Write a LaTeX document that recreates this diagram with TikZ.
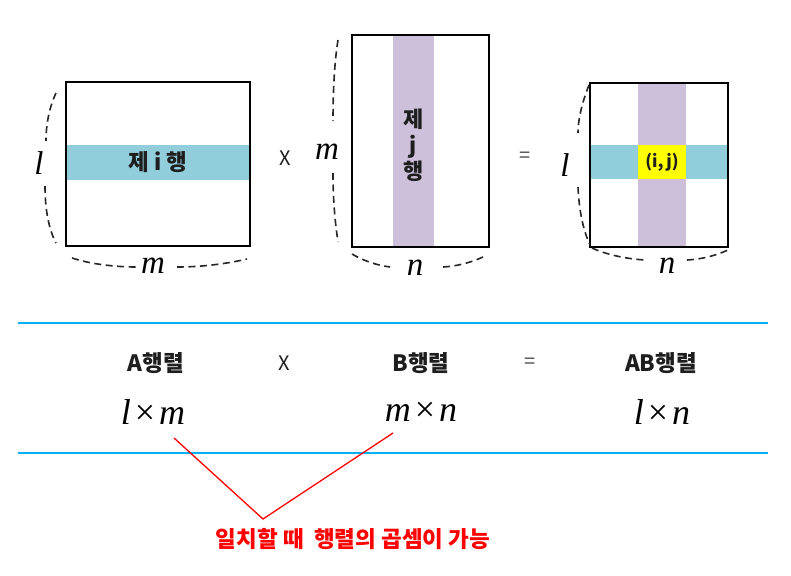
\documentclass[tikz,border=0pt]{standalone}
\usepackage{fontspec}
\setmainfont{Liberation Serif}
\newfontfamily\kr{Noto Sans CJK KR}
\definecolor{rowcyan}{HTML}{92CDDC}
\definecolor{colpurple}{HTML}{CCC0DA}
\definecolor{cellyellow}{HTML}{FFFF00}
\definecolor{sepblue}{HTML}{00B0F0}
\definecolor{txtdark}{HTML}{1E1E1E}
\definecolor{notered}{HTML}{FF0000}
\begin{document}
\begin{tikzpicture}[x=1pt,y=-1pt,
  mbox/.style={draw=black, line width=2pt, inner sep=0pt},
  band/.style={draw=none, inner sep=0pt, text=txtdark},
  dimarc/.style={draw=black!85, line width=1.6pt, dash pattern=on 7pt off 4.5pt},
  dimlbl/.style={font=\fontsize{33}{33}\selectfont\itshape, inner sep=0pt},
  krlbl/.style={font=\kr\bfseries\fontsize{22.5}{24}\selectfont, text=txtdark, inner sep=0pt},
  oplbl/.style={font=\kr\fontsize{20}{20}\selectfont, text=txtdark, inner sep=0pt},
  mathlbl/.style={font=\fontsize{36}{36}\selectfont, inner sep=0pt},
  sepline/.style={draw=sepblue, line width=2pt},
  redline/.style={draw=notered, line width=1.3pt}]
\useasboundingbox (0,0) rectangle (791,575);

% ---------- matrix A ----------
\node[band, fill=rowcyan, minimum width=184pt, minimum height=35pt,
      font=\kr\bfseries\fontsize{22.5}{22.5}\selectfont] (Arow) at (158,162.5) {제 i 행};
\node[mbox, minimum width=184pt, minimum height=164pt] (A) at (158,164) {};
\draw[dimarc] (56,93) .. controls (49,108) and (46,125) .. (46,141);
\draw[dimarc] (45,186) .. controls (45,210) and (49,230) .. (56,243);
\node[dimlbl] (Al) at (39,163) {l};
\draw[dimarc] (72,258) .. controls (90,264) and (115,267) .. (136,267);
\draw[dimarc] (177,267) .. controls (205,267) and (230,263) .. (247,259);
\node[dimlbl] (Am) at (153,266) {m};

% operator
\node[oplbl] (times1) at (285,158) {X};

% ---------- matrix B ----------
\node[band, fill=colpurple, minimum width=41pt, minimum height=212pt] (Bcol) at (413.5,141) {};
\node[band, align=center, font=\kr\bfseries\fontsize{22}{26}\selectfont] (Bcoltxt) at (413.5,145) {제\\j\\행};
\node[mbox, minimum width=137pt, minimum height=212pt] (B) at (420.5,141) {};
\draw[dimarc] (338,40) .. controls (334,65) and (333,95) .. (333,121);
\draw[dimarc] (333,173) .. controls (333,200) and (335,222) .. (338,242);
\node[dimlbl] (Bm) at (327,152) {m};
\draw[dimarc] (352,254) .. controls (362,260) and (375,265) .. (390,267);
\draw[dimarc] (443,267) .. controls (460,266) and (475,261) .. (485,256);
\node[dimlbl] (Bn) at (415,268) {n};

% operator
\node[oplbl, text=black!70] (eq1) at (525,157) {=};

% ---------- matrix C ----------
\node[band, fill=colpurple, minimum width=48pt, minimum height=164pt] (Ccol) at (662,165) {};
\node[band, fill=rowcyan, minimum width=138pt, minimum height=34pt] (Crow) at (659,162) {};
\node[band, fill=cellyellow, minimum width=48pt, minimum height=34pt,
      font=\kr\bfseries\fontsize{17}{17}\selectfont] (Ccell) at (662,162) {(i,\,j)};
\node[mbox, minimum width=138pt, minimum height=164pt] (C) at (659,165) {};
\draw[dimarc] (589,85) .. controls (583,100) and (578,118) .. (578,133);
\draw[dimarc] (578,187) .. controls (579,210) and (583,230) .. (590,245);
\node[dimlbl] (Cl) at (565,165) {l};
\draw[dimarc] (592,248) .. controls (605,254) and (625,259) .. (646,260);
\draw[dimarc] (687,260) .. controls (705,259) and (720,254) .. (730,249);
\node[dimlbl] (Cn) at (667,266) {n};

% ---------- separators ----------
\coordinate (sepTL) at (18,323);
\coordinate (sepTR) at (768,323);
\coordinate (sepBL) at (18,453);
\coordinate (sepBR) at (768,453);
\draw[sepline] (sepTL) -- (sepTR);
\draw[sepline] (sepBL) -- (sepBR);

% ---------- bottom row ----------
\node[krlbl] (Aname) at (156,363) {A행렬};
\node[oplbl] (times2) at (284,363) {X};
\node[krlbl] (Bname) at (421,363) {B행렬};
\node[oplbl, text=black!70] (eq2) at (530,363) {=};
\node[krlbl] (Cname) at (661,363) {AB행렬};

\node[mathlbl] (Adim) at (153,412) {\textit{l}\kern4pt×\kern4pt\textit{m}};
\node[mathlbl] (Bdim) at (421,412) {\textit{m}\kern4pt×\kern4pt\textit{n}};
\node[mathlbl] (Cdim) at (662,412) {\textit{l}\kern4pt×\kern4pt\textit{n}};

% ---------- red note ----------
\coordinate (matchL) at (174,438);
\coordinate (matchR) at (393,433);
\coordinate (vtip) at (263,519);
\draw[redline] (matchL) -- (vtip) -- (matchR);
\node[font=\kr\bfseries\fontsize{22.5}{23}\selectfont, text=notered, inner sep=0pt] (note) at (353,539) {일치할 때\ \ 행렬의 곱셈이 가능};
\end{tikzpicture}
\end{document}
